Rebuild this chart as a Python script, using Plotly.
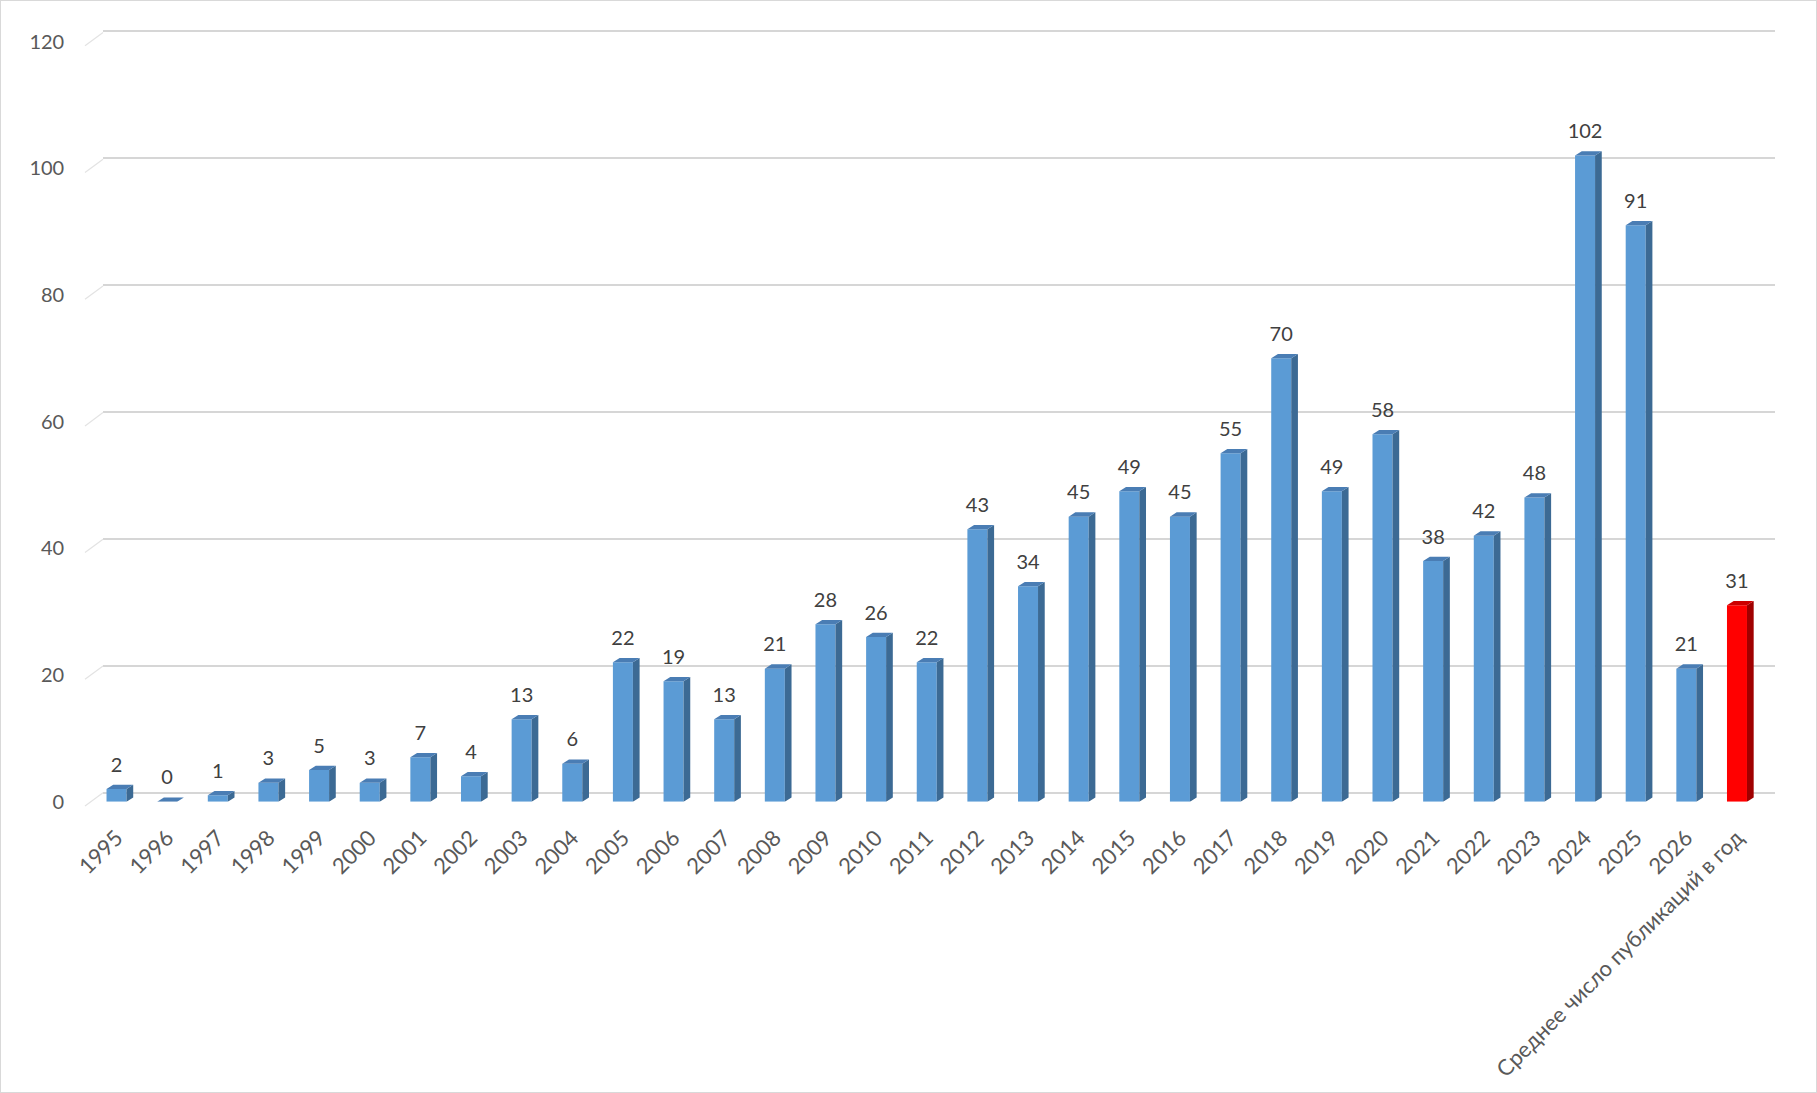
import plotly.graph_objects as go

# ---------------- data ----------------
categories = ["1995", "1996", "1997", "1998", "1999", "2000", "2001", "2002", "2003", "2004",
              "2005", "2006", "2007", "2008", "2009", "2010", "2011", "2012", "2013", "2014",
              "2015", "2016", "2017", "2018", "2019", "2020", "2021", "2022", "2023", "2024",
              "2025", "2026", "Среднее число публикаций в год"]
values = [2, 0, 1, 3, 5, 3, 7, 4, 13, 6,
          22, 19, 13, 21, 28, 26, 22, 43, 34, 45,
          49, 45, 55, 70, 49, 58, 38, 42, 48, 102,
          91, 21, 31]
is_average = [False] * 32 + [True]
y_ticks = [0, 20, 40, 60, 80, 100, 120]

# ---------------- style / geometry ----------------
W, H = 1817, 1093
FONT = "Lato"
cat_px = 50.64          # pixels per category
unit_px = 6.335         # pixels per value unit
bar_w = 0.395           # front-face width (category units)
dx = 6.7 / cat_px       # 3D depth, x
dy = 4.3 / unit_px      # 3D depth, y
label_gap = 22.3 / unit_px
pad = 0.6               # range padding (units) so edge gridlines are kept

colors = {
    False: dict(front="#5B9BD5", side="#3C6A94", top="#4A7DB4"),
    True: dict(front="#FF0000", side="#A00000", top="#CC0000"),
}

idx = list(range(len(categories)))

fig = go.Figure()

# back wall subplot (only carries the gridlines)
fig.add_trace(go.Scatter(x=[None], y=[None], mode="markers", xaxis="x", yaxis="y",
                         hoverinfo="skip", showlegend=False))

# front faces
fig.add_trace(go.Bar(
    x=idx, y=values, width=bar_w,
    marker=dict(color=[colors[a]["front"] for a in is_average], line=dict(width=0)),
    xaxis="x2", yaxis="y2", hoverinfo="skip", showlegend=False,
))

# side and top faces, built from the values
for group in (False, True):
    sx, sy, tx, ty = [], [], [], []
    for i, v, a in zip(idx, values, is_average):
        if a != group:
            continue
        r = i + bar_w / 2
        l = i - bar_w / 2
        sx += [r, r + dx, r + dx, r, r, None]
        sy += [0, dy, v + dy, v, 0, None]
        tx += [l, l + dx, r + dx, r, l, None]
        ty += [v, v + dy, v + dy, v, v, None]
    fig.add_trace(go.Scatter(x=sx, y=sy, mode="lines", fill="toself",
                             fillcolor=colors[group]["side"], line=dict(width=0),
                             xaxis="x2", yaxis="y2", hoverinfo="skip", showlegend=False))
    fig.add_trace(go.Scatter(x=tx, y=ty, mode="lines", fill="toself",
                             fillcolor=colors[group]["top"], line=dict(width=0),
                             xaxis="x2", yaxis="y2", hoverinfo="skip", showlegend=False))

# data labels
fig.add_trace(go.Scatter(
    x=idx, y=[v + label_gap for v in values], mode="text",
    text=[str(v) for v in values], textposition="middle center",
    textfont=dict(family=FONT, size=20, color="#404040"),
    xaxis="x2", yaxis="y2", hoverinfo="skip", showlegend=False, cliponaxis=False,
))

front_x = [91.2 / W, 1762.3 / W]
front_y = [(H - 801.7) / H, (H - 41.5) / H]
pp = pad * unit_px
back_x = [103 / W, 1775 / W]
back_y = [(H - 792.7 - pp) / H, (H - 31 + pp) / H]

# small diagonal floor/wall connectors at the left end of each gridline
shapes = []
for t in y_ticks:
    y_back = (H - 792.7 + t * unit_px) / H
    y_front = (H - 806.0 + t * unit_px) / H
    shapes.append(dict(type="line", xref="paper", yref="paper",
                       x0=85 / W, y0=y_front, x1=103 / W, y1=y_back,
                       line=dict(color="#E3E3E3", width=1.2)))
# chart-area border
shapes.append(dict(type="rect", xref="paper", yref="paper", x0=0, y0=0, x1=1, y1=1,
                   line=dict(color="#D9D9D9", width=2), fillcolor="rgba(0,0,0,0)"))

fig.update_layout(
    width=W, height=H,
    margin=dict(l=0, r=0, t=0, b=0, pad=0),
    autosize=False,
    paper_bgcolor="white",
    plot_bgcolor="rgba(0,0,0,0)",
    font=dict(family=FONT, size=20, color="#595959"),
    showlegend=False,
    # back wall: gridlines
    xaxis=dict(domain=back_x, range=[0, 1], showticklabels=False, showgrid=False,
               zeroline=False, showline=False, ticks="", anchor="y", automargin=False),
    yaxis=dict(domain=back_y, range=[-pad, 120 + pad], tickvals=y_ticks, showticklabels=False,
               showgrid=True, gridcolor="#D6D6D6", gridwidth=1.5, zeroline=False,
               showline=False, ticks="", anchor="x", automargin=False),
    # front: bars and tick labels
    xaxis2=dict(domain=front_x, range=[-0.5, len(categories) - 0.5], anchor="y2",
                tickvals=idx, ticktext=categories, tickangle=-45,
                showgrid=False, zeroline=False, showline=False, ticks="",
                ticklabelstandoff=18, automargin=False,
                tickfont=dict(family=FONT, size=22, color="#595959")),
    yaxis2=dict(domain=front_y, range=[0, 120], anchor="x2",
                tickvals=y_ticks, showgrid=False, zeroline=False, showline=False,
                ticks="", ticklabelstandoff=26, automargin=False,
                tickfont=dict(family=FONT, size=20, color="#595959")),
    shapes=shapes,
)

fig.write_html(
    "out.html", config={"displayModeBar": False},
    post_script=("document.body.style.margin='0';"
                 "document.body.style.overflow='hidden';"
                 "document.documentElement.style.overflow='hidden';"),
)
